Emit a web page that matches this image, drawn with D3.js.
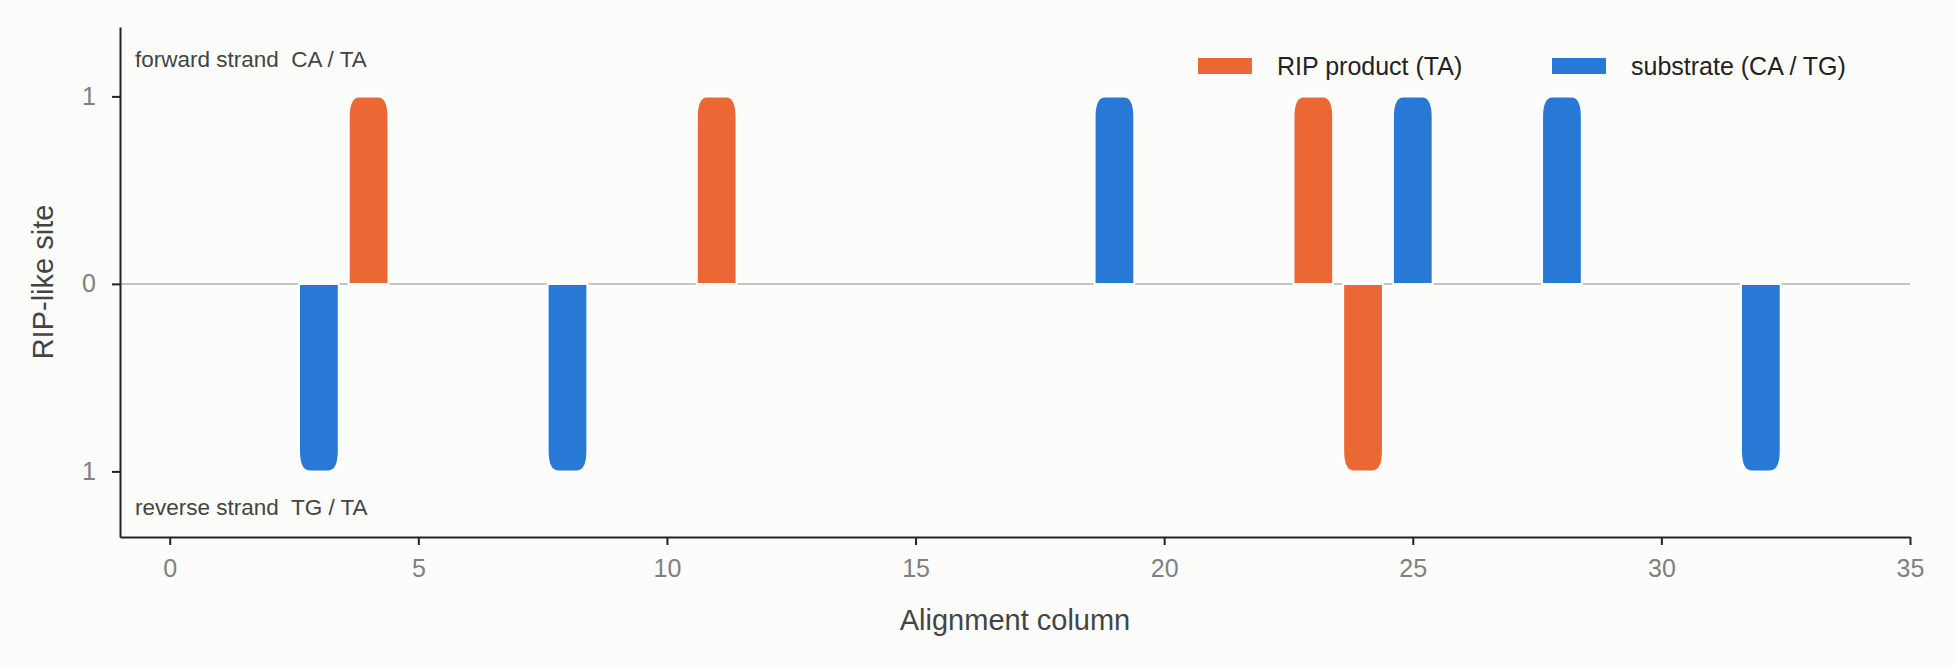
<!DOCTYPE html>
<html><head><meta charset="utf-8">
<script src="https://cdn.jsdelivr.net/npm/d3@7"></script>
<style>body{margin:0;background:#fcfcfa}svg{display:block}</style>
</head><body>
<svg id="c" width="1955" height="668"></svg>
<script>
const productUp = [4, 11, 23];
const productDown = [24];
const substrateUp = [19, 25, 28];
const substrateDown = [3, 8, 32];
const xTicks = [0, 5, 10, 15, 20, 25, 30, 35];
const yTicks = [-1, 0, 1];
const seriesNames = ["RIP product (TA)", "substrate (CA / TG)"];
const colors = ["#eb6835", "#2878d6"];

const svg = d3.select("#c");
const L = 120, R = 1910, T = 27, B = 537;
const x = d3.scaleLinear().domain([-1, 35]).range([L, R]);
const y = d3.scaleLinear().domain([-1.35, 1.37]).range([B, T]);
const bw = x(0.8) - x(0);

svg.append("rect").attr("width",1955).attr("height",668).attr("fill","#fcfcfa");
svg.append("line").attr("x1",L).attr("x2",R).attr("y1",y(0)).attr("y2",y(0))
  .attr("stroke","#c4c4c0").attr("stroke-width",2);

function bar(cx, dir, color){
  const x0 = x(cx) - bw/2, x1 = x(cx) + bw/2, y0 = y(0), y1 = y(dir), r = 13;
  const s = dir > 0 ? 1 : -1;
  const p = d3.path();
  p.moveTo(x0, y0);
  p.lineTo(x0, y1 + s*r*1.6);
  p.quadraticCurveTo(x0, y1, x0 + r*0.8, y1);
  p.lineTo(x1 - r*0.8, y1);
  p.quadraticCurveTo(x1, y1, x1, y1 + s*r*1.6);
  p.lineTo(x1, y0);
  p.closePath();
  svg.append("path").attr("d", p.toString()).attr("fill", color)
    .attr("stroke","#ffffff").attr("stroke-width",2);
}
productUp.forEach(v=>bar(v,1,colors[0]));
productDown.forEach(v=>bar(v,-1,colors[0]));
substrateUp.forEach(v=>bar(v,1,colors[1]));
substrateDown.forEach(v=>bar(v,-1,colors[1]));

const font = "Liberation Sans, Arial, sans-serif";
const xa = svg.append("g").attr("transform",`translate(0,${B})`)
  .call(d3.axisBottom(x).tickValues(xTicks).tickSize(8).tickPadding(14).tickSizeOuter(0));
const ya = svg.append("g").attr("transform",`translate(${L},0)`)
  .call(d3.axisLeft(y).tickValues(yTicks).tickFormat(d=>Math.abs(d)).tickSize(8).tickPadding(16).tickSizeOuter(0));
[xa,ya].forEach(a=>{
  a.select(".domain").attr("stroke","#222").attr("stroke-width",2);
  a.selectAll(".tick line").attr("stroke","#222").attr("stroke-width",2);
  a.selectAll("text").attr("fill","#808080").attr("font-size",25).attr("font-family",font);
});
svg.append("text").attr("x",(L+R)/2).attr("y",630).attr("text-anchor","middle")
  .attr("font-size",29).attr("fill","#444").attr("font-family",font).text("Alignment column");
svg.append("text").attr("transform",`translate(53,${(T+B)/2}) rotate(-90)`).attr("text-anchor","middle")
  .attr("font-size",29).attr("fill","#444").attr("font-family",font).text("RIP-like site");
svg.append("text").attr("x",135).attr("y",67).attr("font-size",22.5).attr("fill","#444")
  .attr("font-family",font).attr("xml:space","preserve").text("forward strand  CA / TA");
svg.append("text").attr("x",135).attr("y",515).attr("font-size",22.5).attr("fill","#444")
  .attr("font-family",font).attr("xml:space","preserve").text("reverse strand  TG / TA");

const lx = [1198, 1552];
seriesNames.forEach((n,i)=>{
  svg.append("rect").attr("x",lx[i]).attr("y",58).attr("width",54).attr("height",16).attr("fill",colors[i]);
  svg.append("text").attr("x",lx[i]+79).attr("y",75).attr("font-size",25).attr("fill","#222")
    .attr("font-family",font).text(n);
});
</script>
</body></html>
